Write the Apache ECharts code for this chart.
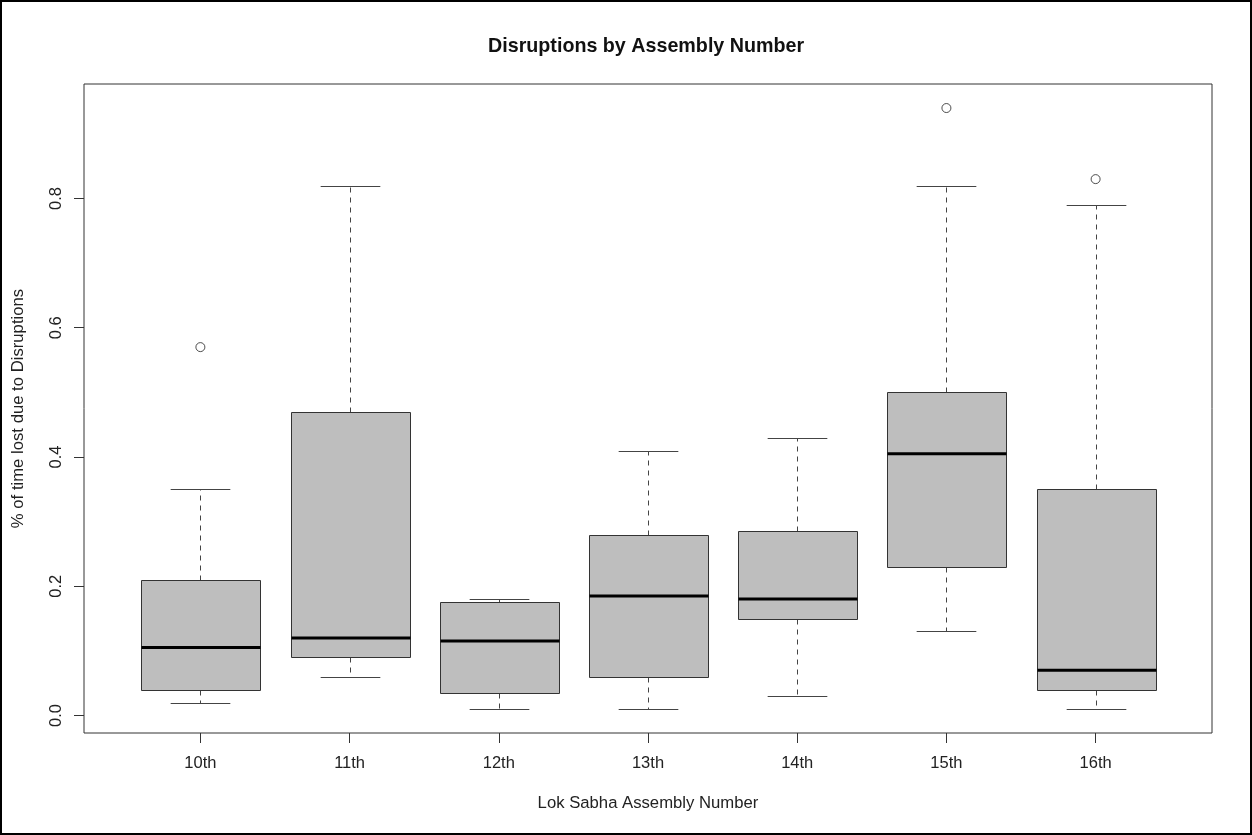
<!DOCTYPE html>
<html>
<head>
<meta charset="utf-8">
<script src="https://cdn.jsdelivr.net/npm/echarts@6/dist/echarts.min.js"></script>
<style>
html,body{margin:0;padding:0;background:#fff;}
#chart{width:1252px;height:835px;}
</style>
</head>
<body>
<div id="chart"></div>
<script>
const categories = ['10th','11th','12th','13th','14th','15th','16th'];
const lowerWhisker = [0.02, 0.06, 0.01, 0.01, 0.03, 0.13, 0.01];
const q1 = [0.04, 0.09, 0.035, 0.06, 0.15, 0.23, 0.04];
const median = [0.105, 0.12, 0.115, 0.185, 0.18, 0.405, 0.07];
const q3 = [0.21, 0.47, 0.175, 0.28, 0.285, 0.50, 0.35];
const upperWhisker = [0.35, 0.82, 0.18, 0.41, 0.43, 0.82, 0.79];
const outlierGroup = [0, 5, 6];
const outlierValue = [0.57, 0.94, 0.83];
const yTicks = [0, 0.2, 0.4, 0.6, 0.8];

const boxData = categories.map((c, i) => [i, lowerWhisker[i], q1[i], median[i], q3[i], upperWhisker[i]]);
const outlierData = outlierGroup.map((g, i) => [g, outlierValue[i]]);
const xIdx = categories.map((c, i) => i);

const font = '"Liberation Sans", Arial, sans-serif';
const chart = echarts.init(document.getElementById('chart'), null, {renderer: 'canvas'});

function h(v){ return Math.round(v) + 0.5; }

chart.setOption({
  animation: false,
  backgroundColor: '#ffffff',
  title: {
    text: 'Disruptions by Assembly Number',
    left: 483,
    top: 32,
    textStyle: {fontFamily: font, fontWeight: 'bold', fontSize: 19.7, color: '#111'}
  },
  grid: {
    left: 84, right: 40, top: 84, bottom: 102,
    show: true, borderColor: '#333', borderWidth: 1, backgroundColor: 'transparent'
  },
  xAxis: {
    type: 'value',
    min: -0.78, max: 6.78,
    name: 'Lok Sabha Assembly Number',
    nameLocation: 'middle',
    nameGap: 62,
    nameTextStyle: {fontFamily: font, fontSize: 16.7, color: '#222', verticalAlign: 'top'},
    axisLine: {show: false, onZero: false},
    splitLine: {show: false},
    axisTick: {show: true, length: 10, customValues: xIdx, lineStyle: {color: '#333'}},
    axisLabel: {
      customValues: xIdx, margin: 22,
      fontFamily: font, fontSize: 16.5, color: '#222',
      formatter: v => categories[Math.round(v)]
    }
  },
  yAxis: {
    type: 'value',
    min: -0.0272, max: 0.9772,
    name: '% of time lost due to Disruptions',
    nameLocation: 'middle',
    nameRotate: 90,
    nameGap: 57,
    nameTextStyle: {fontFamily: font, fontSize: 16.7, color: '#222'},
    axisLine: {show: false, onZero: false},
    splitLine: {show: false},
    axisTick: {show: true, length: 10, customValues: yTicks, lineStyle: {color: '#333'}},
    axisLabel: {
      customValues: yTicks, margin: 19, rotate: 90,
      fontFamily: font, fontSize: 16.5, color: '#222',
      formatter: v => v.toFixed(1)
    }
  },
  graphic: [{
    type: 'rect', silent: true,
    shape: {x: 1, y: 1, width: 1250, height: 833},
    style: {fill: 'none', stroke: '#000', lineWidth: 2}
  }],
  series: [{
    type: 'custom',
    data: boxData,
    encode: {x: 0, y: [1, 2, 3, 4, 5]},
    renderItem: function (params, api) {
      const x = api.value(0);
      const cx = h(api.coord([x, 0])[0]);
      const yLw = h(api.coord([x, api.value(1)])[1]);
      const yQ1 = h(api.coord([x, api.value(2)])[1]);
      const yMed = api.coord([x, api.value(3)])[1];
      const yQ3 = h(api.coord([x, api.value(4)])[1]);
      const yUw = h(api.coord([x, api.value(5)])[1]);
      const bw = api.size([0.8, 0])[0];
      const cw = api.size([0.4, 0])[0];
      const lineStyle = {stroke: '#444', lineWidth: 1};
      const dashStyle = {stroke: '#444', lineWidth: 1, lineDash: [5, 5]};
      return {
        type: 'group',
        children: [
          {type: 'line', shape: {x1: cx, y1: yQ3, x2: cx, y2: yUw}, style: dashStyle},
          {type: 'line', shape: {x1: cx, y1: yQ1, x2: cx, y2: yLw}, style: dashStyle},
          {type: 'line', shape: {x1: cx - cw / 2, y1: yUw, x2: cx + cw / 2, y2: yUw}, style: lineStyle},
          {type: 'line', shape: {x1: cx - cw / 2, y1: yLw, x2: cx + cw / 2, y2: yLw}, style: lineStyle},
          {type: 'rect', shape: {x: h(cx - bw / 2), y: yQ3, width: Math.round(bw), height: yQ1 - yQ3},
            style: {fill: '#bebebe', stroke: '#333', lineWidth: 1}},
          {type: 'line', shape: {x1: h(cx - bw / 2), y1: yMed, x2: h(cx - bw / 2) + Math.round(bw), y2: yMed},
            style: {stroke: '#000', lineWidth: 3}}
        ]
      };
    }
  }, {
    type: 'scatter',
    data: outlierData,
    symbol: 'circle',
    symbolSize: 9,
    itemStyle: {color: 'rgba(0,0,0,0)', borderColor: '#222', borderWidth: 1}
  }]
});
</script>
</body>
</html>
